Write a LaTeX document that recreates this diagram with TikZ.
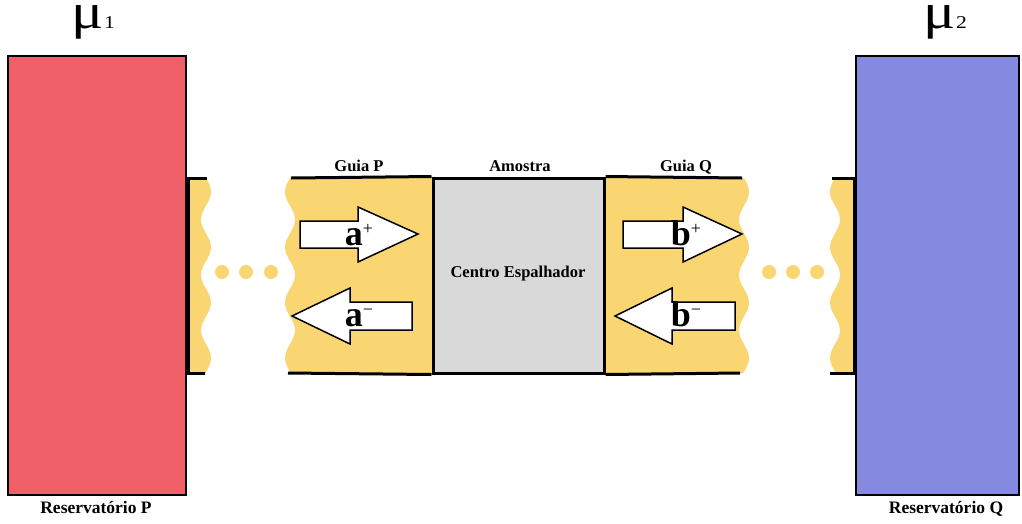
\documentclass[tikz,border=0pt]{standalone}
\usepackage{fontspec}
\setmainfont{Liberation Serif}
\definecolor{resP}{RGB}{240,96,104}
\definecolor{resQ}{RGB}{133,137,224}
\definecolor{guide}{RGB}{250,214,115}
\definecolor{samp}{RGB}{217,217,217}
\tikzset{
  resbox/.style={draw=black,line width=2pt},
  wall/.style={draw=black,line width=3pt},
  bigarrow/.style={draw=black,fill=white,line width=1.5pt,line join=miter},
  lbl/.style={font=\bfseries\fontsize{16.5}{16.5}\selectfont,inner sep=0pt},
  amp/.style={font=\bfseries\fontsize{36}{36}\selectfont,inner sep=0pt},
  mulbl/.style={inner sep=0pt},
  dotfill/.style={fill=guide}
}
\newcommand{\amplab}[2]{#1\raisebox{11pt}{\fontsize{18}{18}\selectfont\textmd{#2}}}
\newcommand{\mulab}[1]{\scalebox{2.4}[2]{{\fontsize{25}{25}\selectfont μ}\hspace{0.3pt}{\fontsize{9}{9}\selectfont #1}}}
\begin{document}
\begin{tikzpicture}[x=1pt,y=-1pt]
\useasboundingbox (0,0) rectangle (1022,523);
% yellow regions
\fill[guide] (188,178) -- plot[smooth,domain=178:373,samples=50] ({206+5*sin((\x-178)*6.5)},\x) -- (188,373) -- cycle;
\fill[guide] plot[smooth,domain=178:373,samples=50] ({290+5*sin((\x-178)*6.5+180)},\x) -- (433,373) -- (433,178) -- cycle;
\fill[guide] (604,178) -- plot[smooth,domain=178:373,samples=50] ({744+5*sin((\x-178)*6.5)},\x) -- (604,373) -- cycle;
\fill[guide] plot[smooth,domain=178:373,samples=50] ({835+5*sin((\x-178)*6.5+180)},\x) -- (855,373) -- (855,178) -- cycle;
% dots
\foreach \i/\xx in {1/222,2/246,3/271,4/769,5/793,6/817}{\fill[dotfill] (\xx,272) circle (7);}
% guide walls
\coordinate (pl1) at (187,178); \coordinate (pl2) at (207,178);
\coordinate (pl3) at (187,373); \coordinate (pl4) at (205,373);
\draw[wall] (pl1) -- (pl2); \draw[wall] (pl3) -- (pl4);
\draw[wall] (188,176.5) -- (188,374.5);
\coordinate (gp1) at (291,178); \coordinate (gp2) at (288,373);
\coordinate (gq1) at (742,178); \coordinate (gq2) at (740,373);
\node[draw=black,fill=samp,line width=3pt,minimum width=171pt,minimum height=195pt,inner sep=0pt] (samp) at (518.5,275.5) {};
\draw[wall] (gp1) -- (samp.north west); \draw[wall] (gp2) -- (samp.south west);
\draw[wall] (samp.north east) -- (gq1); \draw[wall] (samp.south east) -- (gq2);
\coordinate (ql1) at (832,178); \coordinate (ql2) at (830,373);
\draw[wall] (ql1) -- (855,178); \draw[wall] (ql2) -- (855,373);
\draw[wall] (854,176.5) -- (854,374.5);
% reservoirs
\node[resbox,fill=resP,minimum width=178pt,minimum height=439pt,inner sep=0pt] (resP) at (97,275.5) {};
\node[resbox,fill=resQ,minimum width=163pt,minimum height=439pt,inner sep=0pt] (resQ) at (937.5,275.5) {};
% arrows
\draw[bigarrow] (300,221) -- (358,221) -- (358,207) -- (418,234) -- (358,262) -- (358,248) -- (300,248) -- cycle;
\draw[bigarrow] (412,302) -- (350,302) -- (350,288) -- (292,316) -- (350,344) -- (350,330) -- (412,330) -- cycle;
\draw[bigarrow] (623,221) -- (683,221) -- (683,207) -- (742,234) -- (683,262) -- (683,248) -- (623,248) -- cycle;
\draw[bigarrow] (735,302) -- (672,302) -- (672,288) -- (615,316) -- (672,344) -- (672,330) -- (735,330) -- cycle;
\node[amp,anchor=base] (ap) at (359,245) {\amplab{a}{+}};
\node[amp,anchor=base] (am) at (359,326) {\amplab{a}{−}};
\node[amp,anchor=base] (bp) at (686,245) {\amplab{b}{+}};
\node[amp,anchor=base] (bm) at (686,326) {\amplab{b}{−}};
% labels
\node[lbl,anchor=base] (gP) at (359,171) {Guia\ P};
\node[lbl,anchor=base] (am2) at (520,171) {Amostra};
\node[lbl,anchor=base] (gQ) at (686,171) {Guia Q};
\node[lbl,anchor=base] (ce) at (518,277) {Centro Espalhador};
\node[lbl,anchor=base,font=\bfseries\fontsize{17.5}{17.5}\selectfont] (rP) at (96,513) {Reservatório P};
\node[lbl,anchor=base,font=\bfseries\fontsize{17.5}{17.5}\selectfont] (rQ) at (946,513) {Reservatório Q};
\node[mulbl,anchor=base] (mu1) at (93,28) {\mulab{1}};
\node[mulbl,anchor=base] (mu2) at (945,28) {\mulab{2}};
\end{tikzpicture}
\end{document}
